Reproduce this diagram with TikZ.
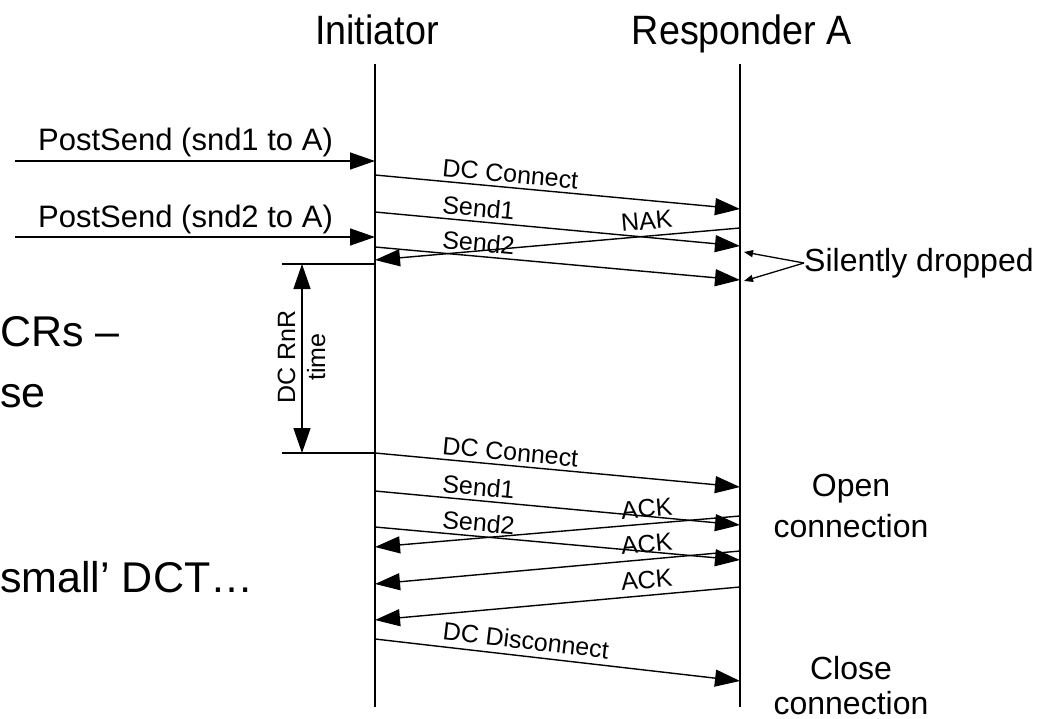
\documentclass[tikz,border=0pt]{standalone}
\usepackage{fontspec}
\setmainfont{Liberation Sans}
\usetikzlibrary{arrows.meta}
\begin{document}
\begin{tikzpicture}[x=1pt,y=-1pt,
  life/.style={line width=2pt},
  msg/.style={line width=1.4pt,-{Triangle[length=25pt,width=17pt]}},
  dim/.style={line width=1.4pt,{Triangle[length=25pt,width=17pt]}-{Triangle[length=25pt,width=17pt]}},
  thin/.style={line width=1.4pt},
  small/.style={line width=1.3pt,-{Triangle[length=9pt,width=7pt]}},
  lbl/.style={font=\fontsize{25}{30}\selectfont, sloped, inner xsep=0pt, inner ysep=4pt},
  rlbl/.style={font=\fontsize{25}{30}\selectfont, sloped, inner xsep=0pt, inner ysep=6pt},
  hd/.style={font=\fontsize{41}{48}\selectfont, anchor=base},
  ps/.style={font=\fontsize{31}{36}\selectfont, anchor=base west, inner sep=0pt},
  side/.style={font=\fontsize{32}{38}\selectfont, anchor=base, inner sep=0pt},
  slide/.style={font=\fontsize{43}{50}\selectfont, anchor=base west, inner sep=0pt},
  rot/.style={font=\fontsize{25}{30}\selectfont, rotate=90, anchor=base, inner sep=0pt}]
\useasboundingbox (0,0) rectangle (1048,719);

% headers
\node[hd] (init) at (377,45) {\scalebox{0.92}[1]{Initiator}};
\node[hd] (resp) at (742,45) {\scalebox{0.92}[1]{Responder A}};

% lifelines
\coordinate (iT) at (375,64); \coordinate (iB) at (375,707);
\coordinate (rT) at (740,64); \coordinate (rB) at (740,707);
\draw[life] (iT) -- (iB);
\draw[life] (rT) -- (rB);

% slide text fragments
\node[slide] (t1) at (0,346) {CRs –};
\node[slide] (t2) at (0,407) {se};
\node[slide] (t3) at (0,592) {small’ DCT…};

% PostSend
\coordinate (p1s) at (15,161); \coordinate (p1e) at (375,161);
\coordinate (p2s) at (15,237); \coordinate (p2e) at (375,237);
\draw[msg] (p1s) -- (p1e);
\draw[msg] (p2s) -- (p2e);
\node[ps] (ps1) at (38,151) {PostSend (snd1 to A)};
\node[ps] (ps2) at (38,227) {PostSend (snd2 to A)};

% first round
\coordinate (a1) at (375,175); \coordinate (b1) at (740,209);
\coordinate (a2) at (375,212); \coordinate (b2) at (740,246);
\coordinate (b3) at (740,228); \coordinate (a3) at (375,260);
\coordinate (a4) at (375,247); \coordinate (b4) at (740,280);
\draw[msg] (a1) -- (b1) node[lbl,pos=0.18,anchor=south west] (m1) {DC Connect};
\draw[msg] (a2) -- (b2) node[lbl,pos=0.18,anchor=south west] (m2) {Send1};
\draw[msg] (b3) -- (a3) node[rlbl,pos=0.18,anchor=south east] (m3) {NAK};
\draw[msg] (a4) -- (b4) node[lbl,pos=0.18,anchor=south west] (m4) {Send2};

% silently dropped
\node[side, anchor=west] (sd) at (804,263) {Silently dropped};
\coordinate (sd1) at (744,252); \coordinate (sd2) at (744,281);
\draw[small] (sd.west) -- (sd1);
\draw[small] (sd.west) -- (sd2);

% DC RnR time
\coordinate (d1a) at (282,264); \coordinate (d1b) at (375,264);
\coordinate (d2a) at (282,453); \coordinate (d2b) at (375,453);
\coordinate (dt) at (302,264); \coordinate (db) at (302,453);
\draw[thin] (d1a) -- (d1b);
\draw[thin] (d2a) -- (d2b);
\draw[dim] (dt) -- (db);
\node[rot] (rn1) at (295,357) {DC RnR};
\node[rot] (rn2) at (325,357) {time};

% second round
\coordinate (c1) at (375,453); \coordinate (e1) at (740,487);
\coordinate (c2) at (375,491); \coordinate (e2) at (740,525);
\coordinate (e3) at (740,516); \coordinate (c3) at (375,547);
\coordinate (c4) at (375,527); \coordinate (e4) at (740,560);
\coordinate (e5) at (740,551); \coordinate (c5) at (375,584);
\coordinate (e6) at (740,587); \coordinate (c6) at (375,620);
\coordinate (c7) at (375,639); \coordinate (e7) at (740,681);
\draw[msg] (c1) -- (e1) node[lbl,pos=0.18,anchor=south west] (n1) {DC Connect};
\draw[msg] (c2) -- (e2) node[lbl,pos=0.18,anchor=south west] (n2) {Send1};
\draw[msg] (e3) -- (c3) node[rlbl,pos=0.18,anchor=south east] (n3) {ACK};
\draw[msg] (c4) -- (e4) node[lbl,pos=0.18,anchor=south west] (n4) {Send2};
\draw[msg] (e5) -- (c5) node[rlbl,pos=0.18,anchor=south east] (n5) {ACK};
\draw[msg] (e6) -- (c6) node[rlbl,pos=0.18,anchor=south east] (n6) {ACK};
\draw[msg] (c7) -- (e7) node[rlbl,pos=0.18,anchor=south west] (n7) {DC Disconnect};

% right side notes
\node[side] (o1) at (851,496) {Open};
\node[side] (o2) at (851,537) {connection};
\node[side] (cl1) at (851,679) {Close};
\node[side] (cl2) at (851,714) {connection};
\end{tikzpicture}
\end{document}
